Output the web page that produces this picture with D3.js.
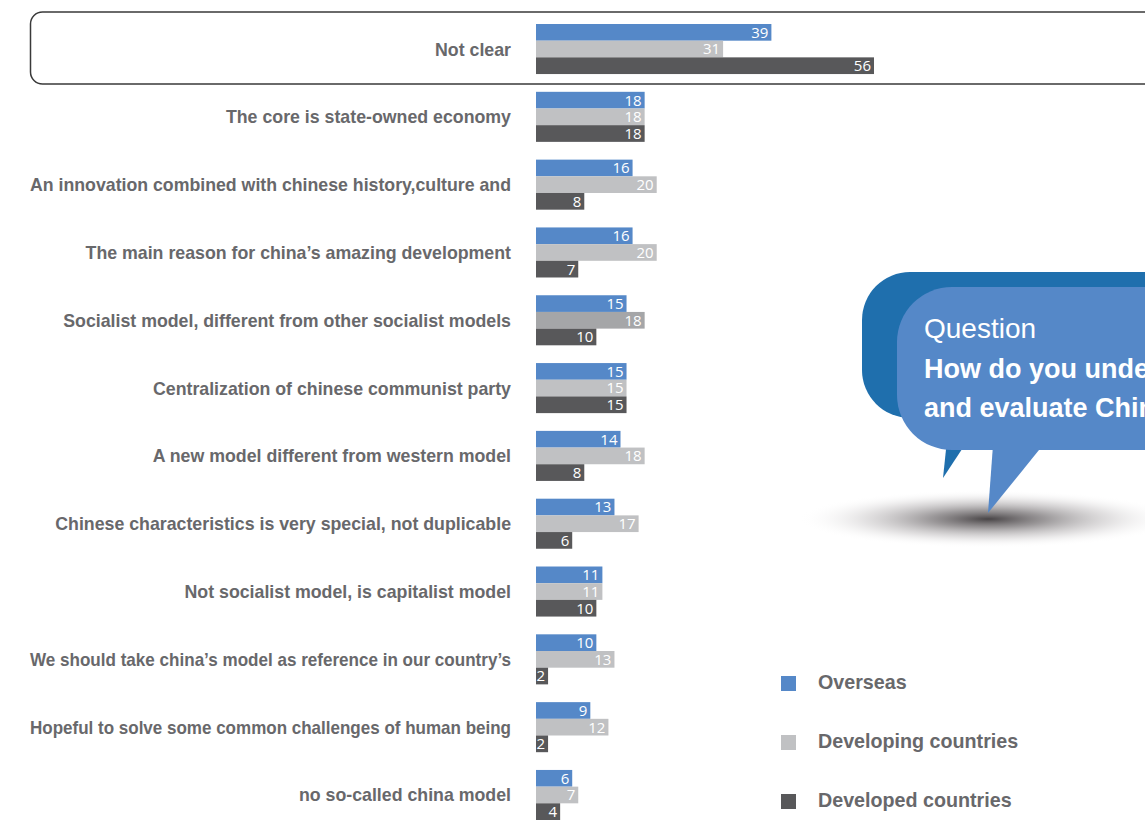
<!DOCTYPE html>
<html><head><meta charset="utf-8">
<script src="https://cdn.jsdelivr.net/npm/d3@7"></script>
<style>body{margin:0;background:#fff}svg{display:block}</style>
</head><body>
<svg id="c" width="1145" height="824"></svg>
<script>
const categories = [
  "Not clear",
  "The core is state-owned economy",
  "An innovation combined with chinese history,culture and",
  "The main reason for china\u2019s amazing development",
  "Socialist model, different from other socialist models",
  "Centralization of chinese communist party",
  "A new model different from western model",
  "Chinese characteristics is very special, not duplicable",
  "Not socialist model, is capitalist model",
  "We should take china\u2019s model as reference in our country\u2019s",
  "Hopeful to solve some common challenges of human being",
  "no so-called china model"
];
const seriesNames = ["Overseas", "Developing countries", "Developed countries"];
const overseas   = [39, 18, 16, 16, 15, 15, 14, 13, 11, 10, 9, 6];
const developing = [31, 18, 20, 20, 18, 15, 18, 17, 11, 13, 12, 7];
const developed  = [56, 18, 8, 7, 10, 15, 8, 6, 10, 2, 2, 4];
const questionLines = ["Question", "How do you understand", "and evaluate China model?"];

const series = [overseas, developing, developed];
const colors = ["#5588c8", "#c0c1c3", "#58585a"];

const svg = d3.select("#c");
const defs = svg.append("defs");

const x = d3.scaleLinear().domain([0, 56]).range([536, 874]);
const y = d3.scaleBand().domain(categories).range([24, 820]).paddingInner(0.262).paddingOuter(0);
const ySub = d3.scaleBand().domain(d3.range(3)).range([0, y.bandwidth()]);

// highlight box round first row
svg.append("rect")
  .attr("x", 30.5).attr("y", y(categories[0]) - 12)
  .attr("width", 1130).attr("height", y.bandwidth() + 22)
  .attr("rx", 12).attr("fill", "none")
  .attr("stroke", "#3a3a3a").attr("stroke-width", 1.5);

// bars
const g = svg.append("g");
categories.forEach((cat, i) => {
  series.forEach((s, k) => {
    const v = s[i];
    let col = colors[k];
    if (k === 1 && i === 4) col = "#a5a6a8";
    g.append("rect")
      .attr("x", x(0)).attr("y", y(cat) + ySub(k))
      .attr("width", x(v) - x(0)).attr("height", ySub.bandwidth())
      .attr("fill", col);
    g.append("text")
      .attr("x", x(v) - 3).attr("y", y(cat) + ySub(k) + ySub.bandwidth() / 2)
      .attr("dy", "0.36em").attr("text-anchor", "end")
      .attr("fill", "#fff").attr("font-family", "Open Sans, sans-serif")
      .attr("font-size", 15).text(v);
  });
});

// category labels via axis
const axis = d3.axisLeft(y).tickSize(0).tickPadding(0);
const ax = svg.append("g").attr("transform", "translate(511,0.8)").call(axis);
ax.select(".domain").remove();
ax.selectAll("text")
  .attr("font-family", "Liberation Sans, Arial, sans-serif")
  .attr("font-weight", "bold").attr("font-size", 17.75)
  .attr("fill", "#68686b")
  .each(function () {
    const w = this.getComputedTextLength();
    if (w > 481) d3.select(this).attr("textLength", 481).attr("lengthAdjust", "spacingAndGlyphs");
  });

// shadow
const rg = defs.append("radialGradient").attr("id", "sh");
rg.append("stop").attr("offset", "0%").attr("stop-color", "#484446").attr("stop-opacity", 1);
rg.append("stop").attr("offset", "30%").attr("stop-color", "#7a7678").attr("stop-opacity", 0.75);
rg.append("stop").attr("offset", "65%").attr("stop-color", "#b0acae").attr("stop-opacity", 0.35);
rg.append("stop").attr("offset", "100%").attr("stop-color", "#fff").attr("stop-opacity", 0);
svg.append("ellipse").attr("cx", 988).attr("cy", 519).attr("rx", 190).attr("ry", 29)
  .attr("fill", "url(#sh)");

// back bubble
svg.append("path")
  .attr("d", "M947,440 L968,440 L943,478 Z").attr("fill", "#1f6fad");
svg.append("rect").attr("x", 862).attr("y", 272).attr("width", 400).attr("height", 146)
  .attr("rx", 48).attr("fill", "#1f6fad");
// front bubble
svg.append("rect").attr("x", 897).attr("y", 287).attr("width", 400).attr("height", 163)
  .attr("rx", 55).attr("fill", "#5588c8");
svg.append("path")
  .attr("d", "M993,445 L1043,445 L988,513 Z").attr("fill", "#5588c8");

const qt = svg.append("g").attr("font-family", "Liberation Sans, Arial, sans-serif").attr("fill", "#fff");
qt.append("text").attr("x", 924).attr("y", 338).attr("font-size", 28).text(questionLines[0]);
qt.append("text").attr("x", 924).attr("y", 378).attr("font-size", 27).attr("font-weight", "bold").text(questionLines[1]);
qt.append("text").attr("x", 924).attr("y", 417).attr("font-size", 27).attr("font-weight", "bold").text(questionLines[2]);

// legend
const leg = svg.append("g");
seriesNames.forEach((n, k) => {
  const yy = 683 + k * 59;
  leg.append("rect").attr("x", 781).attr("y", yy - 7).attr("width", 15).attr("height", 15).attr("fill", colors[k]);
  leg.append("text").attr("x", 818).attr("y", yy - 1).attr("dy", "0.35em")
    .attr("font-family", "Liberation Sans, Arial, sans-serif").attr("font-weight", "bold")
    .attr("font-size", 19.7).attr("fill", "#68686b").text(n);
});
</script>
</body></html>
